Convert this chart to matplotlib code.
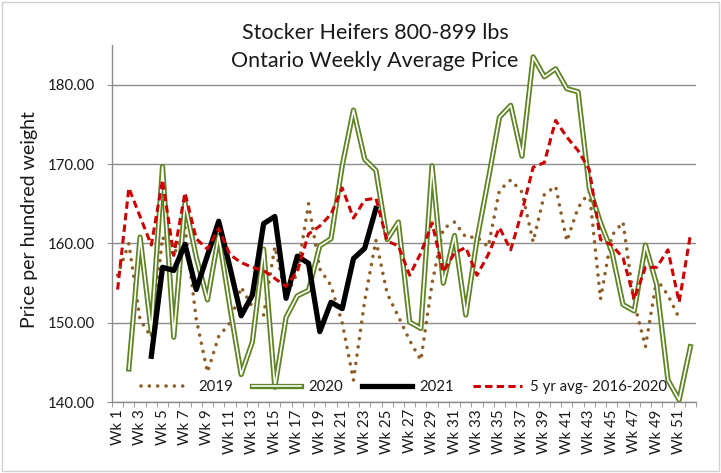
import numpy as np
import matplotlib.pyplot as plt
import matplotlib.patheffects as pe
from matplotlib.patches import Rectangle
from matplotlib.ticker import FuncFormatter

plt.rcParams['font.family'] = ['Lato', 'DejaVu Sans']

weeks = [f"Wk {i}" for i in range(1, 53)]

# weekly prices (None = no data)
y2019 = [156.0, 160.0, 150.4, 148.2, 160.8, 158.5, 162.0, 150.5, 143.8, 148.3,
         150.0, 154.5, 152.0, 151.0, 159.6, 153.3, 156.3, 165.0, 156.8, 154.7,
         150.0, 142.8, 152.8, 160.4, 153.7, 150.8, 147.8, 145.3, 155.0, 161.9,
         162.7, 160.8, 160.8, 159.6, 166.7, 168.0, 166.5, 160.2, 166.2, 167.2,
         160.3, 164.5, 166.5, 153.0, 161.0, 162.7, 152.5, 147.0, 155.5, 153.5,
         150.6, None]
y2020 = [None, 144.2, 160.8, 148.9, 169.7, 148.2, 165.1, 158.3, 152.9, 161.0,
         152.0, 143.5, 147.6, 159.3, 141.9, 150.7, 153.4, 154.1, 159.7, 160.6,
         169.8, 176.8, 170.6, 169.2, 160.5, 162.7, 150.1, 149.3, 169.8, 155.0,
         161.0, 151.0, 160.5, 168.0, 175.9, 177.4, 171.0, 183.5, 181.0, 182.0,
         179.5, 179.1, 167.0, 162.6, 159.0, 152.3, 151.5, 159.8, 154.8, 142.8,
         140.3, 147.0]
y2021 = [None, None, None, 145.8, 157.0, 156.6, 159.9, 154.2, 158.5, 162.8,
         157.0, 150.9, 153.5, 162.5, 163.4, 153.1, 158.4, 157.5, 148.9, 152.6,
         151.8, 158.1, 159.4, 164.4] + [None] * 28
avg5 = [154.2, 167.0, 163.4, 159.8, 168.0, 158.5, 166.4, 160.6, 159.3, 161.9,
        158.6, 157.6, 157.0, 156.6, 155.6, 154.6, 156.5, 161.2, 162.2, 163.7,
        167.0, 163.2, 165.5, 165.7, 160.3, 159.7, 156.0, 158.8, 162.6, 156.4,
        158.8, 159.5, 156.0, 158.6, 162.0, 159.2, 164.0, 169.6, 170.2, 175.5,
        173.4, 171.7, 169.3, 160.5, 159.8, 158.2, 153.0, 157.0, 157.0, 159.2,
        152.6, 161.1]

BROWN = '#8f5e28'
GREEN = '#5f8426'
RED = '#cc0000'
GRID = '#8c8c8c'
TXT = '#1a1a1a'

W, H = 721, 473
fig = plt.figure(figsize=(W / 100, H / 100), dpi=100)
ax = fig.add_axes([112 / W, 1 - 402.3 / H, 584 / W, 357.3 / H])

x = np.arange(len(weeks))
ax.plot(x, np.array(y2019, dtype=float), color=BROWN, lw=2.6,
        linestyle=(0, (0.01, 2.3)), dash_capstyle='round', label='2019')
ax.plot(x, np.array(y2020, dtype=float), color='white', lw=1.2, label='2020',
        path_effects=[pe.Stroke(linewidth=3.8, foreground=GREEN), pe.Normal()])
ax.plot(x, np.array(y2021, dtype=float), color='black', lw=3.8, label='2021')
ax.plot(x, np.array(avg5, dtype=float), color=RED, lw=2.2,
        linestyle=(0, (2.4, 1.4)), label='5 yr avg- 2016-2020')

ax.set_xlim(-0.5, len(weeks) - 0.5)
ax.set_ylim(140, 185)
ax.set_yticks([140, 150, 160, 170, 180])
ax.yaxis.set_major_formatter(FuncFormatter(lambda v, p: f"{v:.2f}"))
ax.tick_params(axis='y', length=3.6, color=GRID, pad=8.5, labelsize=10.8, labelcolor=TXT)
ax.grid(axis='y', color=GRID, lw=1)
ax.set_axisbelow(True)

ax.set_xticks(x[::2])
ax.set_xticklabels(weeks[::2], rotation=90)
ax.set_xticks(np.arange(-0.5, len(weeks), 1), minor=True)
ax.tick_params(axis='x', which='major', length=0, pad=5, labelsize=10.8, labelcolor=TXT)
ax.tick_params(axis='x', which='minor', length=3.6, color=GRID)

for s in ['top', 'right']:
    ax.spines[s].set_visible(False)
for s in ['left', 'bottom']:
    ax.spines[s].set_color(GRID)
    ax.spines[s].set_linewidth(1)

ax.legend(loc='center', bbox_to_anchor=(0.5, 0.043), ncol=4, frameon=False,
          handlelength=3.3, handletextpad=0.5, columnspacing=1.25,
          fontsize=10.8, labelcolor=TXT)

fig.text(375 / W, 1 - 33 / H, "Stocker Heifers 800-899 lbs", ha='center', va='center',
         fontsize=15.5, color=TXT)
fig.text(375 / W, 1 - 61 / H, "Ontario Weekly Average Price", ha='center', va='center',
         fontsize=15.5, color=TXT)
fig.text(30 / W, 1 - 220 / H, "Price per hundred weight", rotation=90, ha='center',
         va='center', fontsize=14, color=TXT)

fig.patches.append(Rectangle((2 / W, 2 / H), 1 - 4 / W, 1 - 4 / H, transform=fig.transFigure,
                             fill=False, ec='#d0d0d0', lw=1))

fig.savefig('out.png', dpi=100)
